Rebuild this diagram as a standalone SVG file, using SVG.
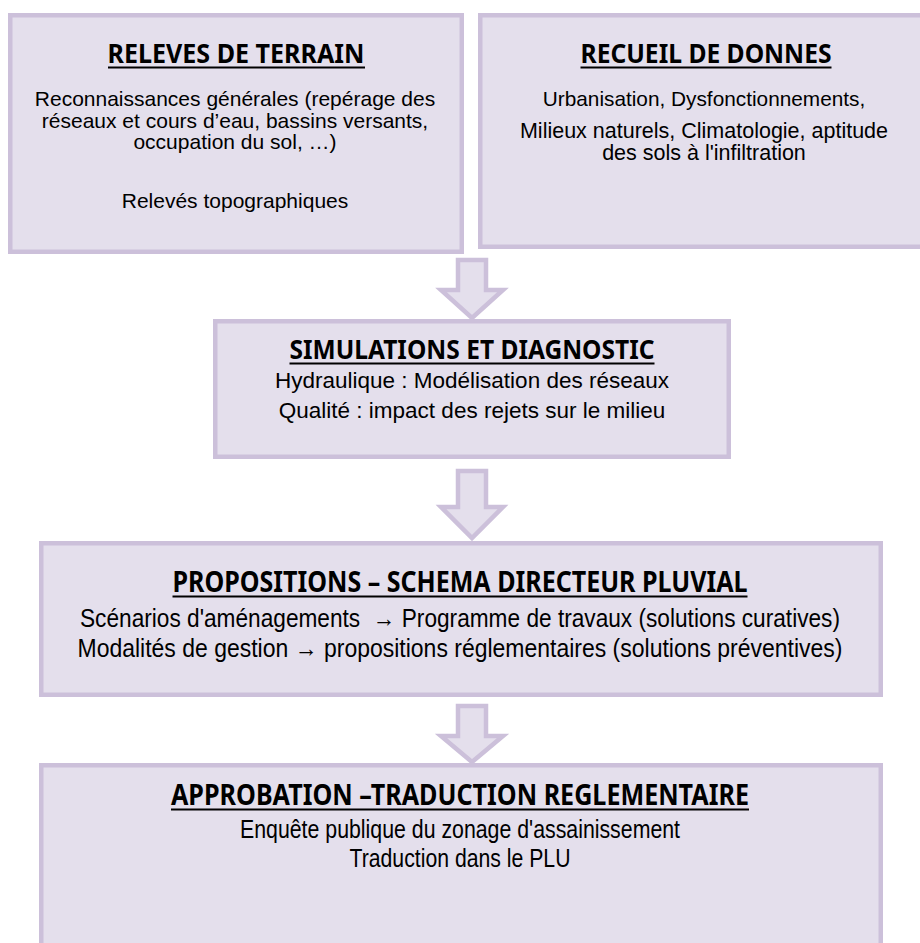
<svg xmlns="http://www.w3.org/2000/svg" width="920" height="943" viewBox="0 0 920 943">
<style>
.box{fill:#e4dfec;stroke:#ccc0da;stroke-width:4.5}
.arr{fill:#e4dfec;stroke:#ccc0da;stroke-width:4.5;stroke-linejoin:miter}
.t{font-family:"Noto Sans","Open Sans",sans-serif;font-weight:bold;font-size:26px;fill:#000;text-anchor:middle}
.tn{font-family:"Noto Sans","Open Sans",sans-serif;font-weight:bold;font-size:28px;fill:#000;text-anchor:middle}
.b{font-family:"Liberation Sans",Arial,sans-serif;font-size:21px;fill:#000;text-anchor:middle}
.bn{font-family:"Liberation Sans",Arial,sans-serif;font-size:25px;fill:#000;text-anchor:middle;white-space:pre}
.u{stroke:#000;stroke-width:1.8}
</style>
<rect width="920" height="943" fill="#fff"/>
<g id="connectors">
<path class="arr" d="M458,260 H486 V290 H503 L472,318 L441,290 H458 Z"/>
<path class="arr" d="M458,471 H486 V507 H503 L472,538 L441,507 H458 Z"/>
<path class="arr" d="M458,706 H486 V736 H503 L472,762 L441,736 H458 Z"/>
</g>
<g id="releves">
<rect class="box" x="10.25" y="15.25" width="451.5" height="236.5"/>
<text class="t" x="236" y="63" textLength="257" lengthAdjust="spacingAndGlyphs">RELEVES DE TERRAIN</text>
<line class="u" x1="108" y1="67.5" x2="365" y2="67.5"/>
<text class="b" x="235" y="106">Reconnaissances générales (repérage des</text>
<text class="b" x="235" y="128">réseaux et cours d’eau, bassins versants,</text>
<text class="b" x="235" y="149">occupation du sol, …)</text>
<text class="b" x="235" y="208">Relevés topographiques</text>
</g>
<g id="recueil">
<rect class="box" x="480.25" y="15.25" width="460" height="231.5"/>
<text class="t" x="706" y="63" textLength="251" lengthAdjust="spacingAndGlyphs">RECUEIL DE DONNES</text>
<line class="u" x1="580.5" y1="67.5" x2="831.5" y2="67.5"/>
<text class="b" x="704" y="106" style="font-size:20.8px">Urbanisation, Dysfonctionnements,</text>
<text class="b" x="704" y="138" style="font-size:21.5px">Milieux naturels, Climatologie, aptitude</text>
<text class="b" x="704" y="160" style="font-size:21.5px">des sols à l'infiltration</text>
</g>
<g id="simulations">
<rect class="box" x="215.25" y="321.25" width="513.5" height="135.5"/>
<text class="t" x="472" y="359" textLength="365" lengthAdjust="spacingAndGlyphs">SIMULATIONS ET DIAGNOSTIC</text>
<line class="u" x1="289.5" y1="363.5" x2="654.5" y2="363.5"/>
<text class="b" x="472" y="388" style="font-size:22.5px">Hydraulique : Modélisation des réseaux</text>
<text class="b" x="472" y="418" style="font-size:22.5px">Qualité : impact des rejets sur le milieu</text>
</g>
<g id="propositions">
<rect class="box" x="41.25" y="543.25" width="839.5" height="151.5"/>
<text class="tn" x="460" y="592" textLength="575" lengthAdjust="spacingAndGlyphs">PROPOSITIONS – SCHEMA DIRECTEUR PLUVIAL</text>
<line class="u" x1="172.5" y1="596.5" x2="747.5" y2="596.5"/>
<text class="bn" x="460" y="627" textLength="760" lengthAdjust="spacingAndGlyphs">Scénarios d'aménagements  → Programme de travaux (solutions curatives)</text>
<text class="bn" x="460" y="657" textLength="765" lengthAdjust="spacingAndGlyphs">Modalités de gestion → propositions réglementaires (solutions préventives)</text>
</g>
<g id="approbation">
<rect class="box" x="41.25" y="765.25" width="839.5" height="200"/>
<text class="tn" x="460" y="805" textLength="578" lengthAdjust="spacingAndGlyphs">APPROBATION –TRADUCTION REGLEMENTAIRE</text>
<line class="u" x1="171" y1="809.5" x2="749" y2="809.5"/>
<text class="bn" x="460" y="838" textLength="440" lengthAdjust="spacingAndGlyphs">Enquête publique du zonage d'assainissement</text>
<text class="bn" x="460" y="867" textLength="221" lengthAdjust="spacingAndGlyphs">Traduction dans le PLU</text>
</g>
</svg>
